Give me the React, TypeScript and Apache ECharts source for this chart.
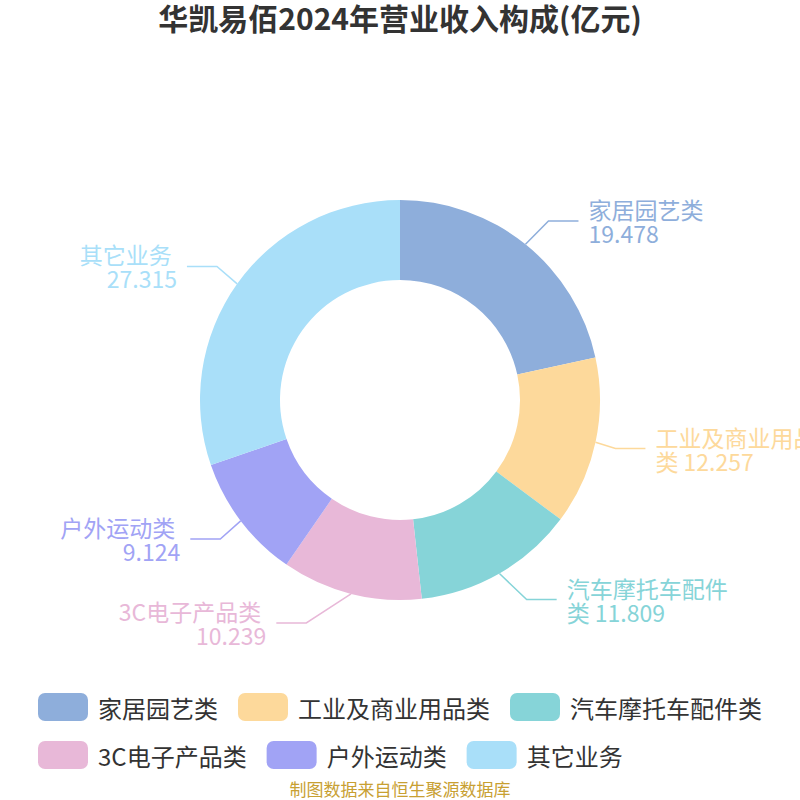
import React, { useEffect, useRef } from "react";
import * as echarts from "echarts";

const titleText = "华凯易佰2024年营业收入构成(亿元)";
const sourceText = "制图数据来自恒生聚源数据库";
const categories = ["家居园艺类", "工业及商业用品类", "汽车摩托车配件类", "3C电子产品类", "户外运动类", "其它业务"];
const values = [19.478, 12.257, 11.809, 10.239, 9.124, 27.315];
const colors = ["#8eaedb", "#fdd99b", "#86d4d8", "#e8b8d8", "#a1a3f5", "#a9dff9"];

const LINE_LEN = 30;
const LINE_LEN2 = 30;
const TEXT_GAP = 10;

export default function App() {
  const ref = useRef<HTMLDivElement>(null);
  useEffect(() => {
    if (!ref.current) return;
    const chart = echarts.init(ref.current, null, { renderer: "svg" });
    const font = "'Noto Sans CJK SC', 'Noto Sans', sans-serif";
    const w = chart.getWidth();
    const h = chart.getHeight();
    const cx = w / 2;
    const cy = h / 2;
    const outerR = (Math.min(w, h) / 2) * 0.5;
    chart.setOption({
      animation: false,
      color: colors,
      textStyle: { fontFamily: font },
      title: {
        text: titleText,
        left: "center",
        top: 2,
        padding: [0, 5, 5, 5],
        textStyle: { fontSize: 30, fontWeight: "bold", color: "#333", fontFamily: font },
      },
      graphic: [
        {
          type: "text",
          left: "center",
          top: 780,
          style: { text: sourceText, fontSize: 17, fill: "#c8a032", fontFamily: font },
        },
      ],
      legend: {
        bottom: 26,
        left: "center",
        width: 760,
        itemWidth: 50,
        itemHeight: 28,
        itemGap: 20,
        icon: "roundRect",
        textStyle: { fontSize: 24, color: "#333", fontFamily: font, padding: [0, 0, 0, 5] },
        data: categories,
      },
      series: [
        {
          type: "pie",
          center: ["50%", "50%"],
          radius: ["30%", "50%"],
          startAngle: 90,
          data: categories.map((c, i) => ({ name: c, value: values[i] })),
          label: {
            formatter: "{b} {c}",
            fontSize: 23,
            lineHeight: 24,
            width: 165,
            overflow: "break",
            color: "inherit",
            fontFamily: font,
          },
          labelLine: { length: LINE_LEN, length2: LINE_LEN2, lineStyle: { width: 1.5 } },
          labelLayout: (params: any) => {
            const pts = params.labelLinePoints;
            if (!pts || pts.length < 3) return {};
            const dir = pts[2][0] >= pts[1][0] ? 1 : -1;
            const ly = pts[1][1];
            const R = outerR + LINE_LEN + LINE_LEN2;
            const dy = ly - cy;
            const dx = Math.abs(dy) < R ? Math.sqrt(R * R - dy * dy) : Math.abs(pts[2][0] - cx);
            const textX = cx + dir * dx;
            const endX = textX - dir * TEXT_GAP;
            const elbowX = endX - dir * LINE_LEN2;
            return {
              x: textX,
              y: ly,
              align: dir > 0 ? "left" : "right",
              verticalAlign: "middle",
              labelLinePoints: [pts[0], [elbowX, ly], [endX, ly]],
            };
          },
        },
      ],
    });
    return () => chart.dispose();
  }, []);
  return <div ref={ref} style={{ position: "absolute", left: 0, top: 0, width: 800, height: 800 }} />;
}
